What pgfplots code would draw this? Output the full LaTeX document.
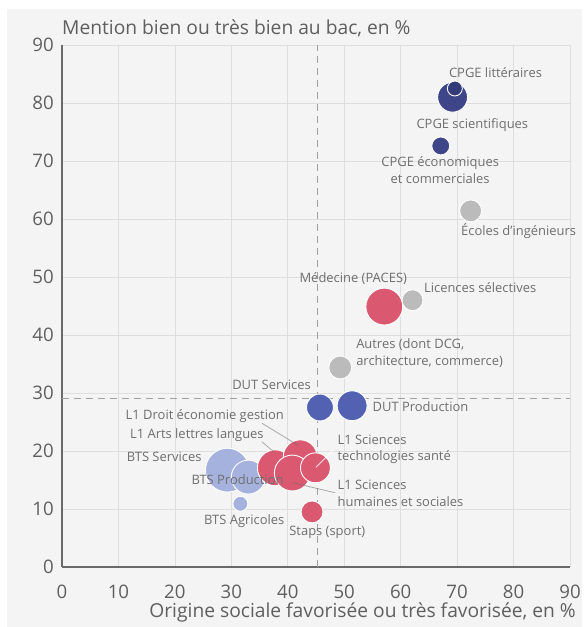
\documentclass[border=0pt]{standalone}
\usepackage{pgfplots}
\pgfplotsset{compat=1.18}
\usepackage{fontspec}
\setmainfont{Open Sans}
\definecolor{txt}{HTML}{5F5F5F}
\definecolor{lbl}{HTML}{6E6E6E}
\definecolor{gridc}{HTML}{DEDEDE}
\definecolor{axc}{HTML}{6A6A6A}
\definecolor{dashc}{HTML}{A0A0A0}
\definecolor{bgc}{HTML}{F4F4F4}
\definecolor{navy}{HTML}{3E4588}
\definecolor{navyd}{HTML}{343B7A}
\definecolor{dutb}{HTML}{5361B3}
\definecolor{btsb}{HTML}{A6B2DE}
\definecolor{redc}{HTML}{DA5870}
\definecolor{grayc}{HTML}{BBBBBB}
\pgfplotsset{
  bub/.style={scatter, only marks, mark=*,
    scatter/use mapped color={draw=white, fill=#1},
    line width=0.9pt,
    visualization depends on={\thisrow{r} \as \rad},
    scatter/@pre marker code/.append style={/tikz/mark size=\rad}}
}
\begin{document}
\begin{tikzpicture}
\begin{axis}[
  set layers,
  scale only axis, width=508bp, height=522bp,
  xmin=0, xmax=90, ymin=0, ymax=90,
  xtick={0,10,...,90}, ytick={0,10,...,90},
  axis x line=bottom, axis y line=left,
  axis line style={draw=axc, line width=1.3pt, -},
  major tick length=0pt,
  grid=major, major grid style={draw=gridc, line width=0.7pt},
  tick label style={font=\fontsize{18.7}{22}\selectfont, text=txt, inner sep=0pt},
  /pgf/number format/assume math mode=true,
  xticklabel style={yshift=-18bp},
  yticklabel style={xshift=-8bp},
  clip=false,
]
\begin{pgfonlayer}{axis background}
\fill[bgc] ([shift={(-55bp,-60bp)}]axis cs:0,0) rectangle ([shift={(520bp,558bp)}]axis cs:0,0);
\end{pgfonlayer}
\draw[dashc, line width=1pt, dash pattern=on 7bp off 5bp] (axis cs:45.2,0) -- (axis cs:45.2,90);
\draw[dashc, line width=1pt, dash pattern=on 7bp off 5bp] (axis cs:0,29) -- (axis cs:90,29);

% CPGE
\addplot[bub=navy] table[row sep=\\]{x y r\\ 69.2 81.0 15\\ 67.1 72.6 9\\};
\addplot[bub=navyd] table[row sep=\\]{x y r\\ 69.6 82.5 7.5\\};
% gray
\addplot[bub=grayc] table[row sep=\\]{x y r\\ 72.4 61.4 11\\ 62.1 46.0 10.5\\ 49.3 34.4 11.5\\};
% DUT
\addplot[bub=dutb] table[row sep=\\]{x y r\\ 45.7 27.5 13.5\\ 51.4 27.8 15\\};
% BTS
\addplot[bub=btsb] table[row sep=\\]{x y r\\ 29.3 16.7 22\\ 33.0 15.5 17\\ 31.6 10.9 7.5\\};
% red
\addplot[bub=redc] table[row sep=\\]{x y r\\ 57.1 44.9 18.5\\ 37.8 17.1 18\\ 42.2 19.0 17\\ 40.8 16.2 18\\ 44.9 17.1 15\\ 44.3 9.5 11\\};

\begin{pgfonlayer}{axis foreground}
% leader lines
\draw[lbl, draw opacity=0.55, line width=0.8pt] (axis cs:35.4,24.8) -- (axis cs:41.8,21.0);
\draw[lbl, draw opacity=0.55, line width=0.8pt] (axis cs:35.4,21.6) -- (axis cs:37.6,19.8);
\draw[white, draw opacity=0.8, line width=0.8pt] (axis cs:48.2,20.3) -- (axis cs:45.0,17.2);
\draw[lbl, draw opacity=0.55, line width=0.8pt] (axis cs:48.4,12.8) -- (axis cs:41.0,14.5);

\begin{scope}[every node/.style={font=\fontsize{13}{16.5}\selectfont, text=lbl, inner sep=0pt}]
\node at (axis cs:76.8,85.3) {CPGE littéraires};
\node at (axis cs:72.7,76.2) {CPGE scientifiques};
\node[align=center] at (axis cs:67.0,68.4) {CPGE économiques\\et commerciales};
\node at (axis cs:80.9,57.9) {Écoles d’ingénieurs};
\node at (axis cs:51.6,49.8) {Médecine (PACES)};
\node at (axis cs:74.1,48.1) {Licences sélectives};
\node[align=left, anchor=west] at (axis cs:52.1,36.9) {Autres (dont DCG,\\architecture, commerce)};
\node[anchor=east] at (axis cs:44.1,31.4) {DUT Services};
\node[anchor=west] at (axis cs:55.0,27.6) {DUT Production};
\node at (axis cs:25.3,26.0) {L1 Droit économie gestion};
\node at (axis cs:23.9,22.8) {L1 Arts lettres langues};
\node at (axis cs:18.1,19.0) {BTS Services};
\node at (axis cs:31.1,15.0) {BTS Production};
\node at (axis cs:32.3,7.9) {BTS Agricoles};
\node at (axis cs:47.0,6.0) {Staps (sport)};
\node[align=left, anchor=west] at (axis cs:48.8,20.3) {L1 Sciences\\technologies santé};
\node[align=left, anchor=west] at (axis cs:48.8,12.7) {L1 Sciences\\humaines et sociales};
\end{scope}
\end{pgfonlayer}

\node[anchor=base west, font=\fontsize{19.3}{22}\selectfont, text=txt, inner sep=0pt] at ([yshift=10.5bp]axis cs:0,90) {Mention bien ou très bien au bac, en \%};
\node[anchor=base east, font=\fontsize{19.3}{22}\selectfont, text=txt, inner sep=0pt] at ([xshift=6bp,yshift=-50bp]axis cs:90,0) {Origine sociale favorisée ou très favorisée, en \%};
\end{axis}
\path[use as bounding box] (-62bp,-60bp) rectangle (526bp,567bp);
\end{tikzpicture}
\end{document}
